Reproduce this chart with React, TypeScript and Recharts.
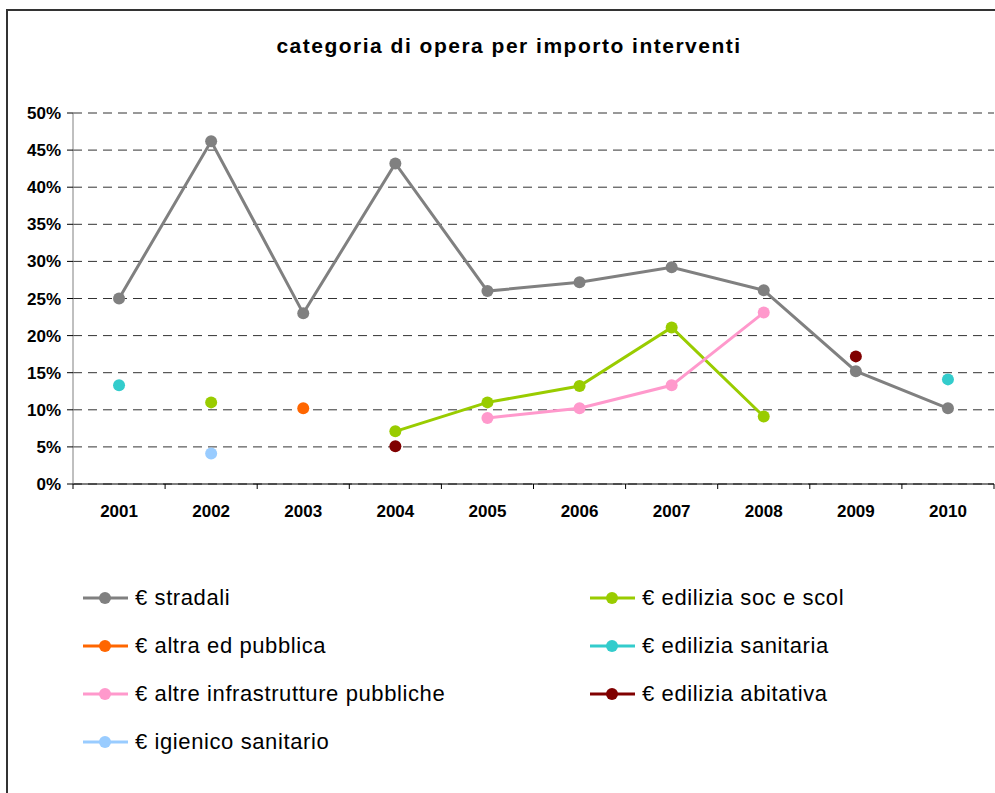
import {
  LineChart,
  Line,
  XAxis,
  YAxis,
  CartesianGrid,
  Legend
} from 'recharts'

const years = ['2001', '2002', '2003', '2004', '2005', '2006', '2007', '2008', '2009', '2010']
const percentTicks = [0, 5, 10, 15, 20, 25, 30, 35, 40, 45, 50]

const stradali = [25, 46.2, 23, 43.2, 26, 27.2, 29.2, 26.1, 15.2, 10.2]
const ediliziaSocScol = [null, 11, null, 7.1, 11, 13.2, 21.1, 9.1, null, null]
const altraEdPubblica = [null, null, 10.2, null, null, null, null, null, null, null]
const ediliziaSanitaria = [13.3, null, null, null, null, null, null, null, null, 14.1]
const altreInfrastrutture = [null, null, null, null, 8.9, 10.2, 13.3, 23.1, null, null]
const ediliziaAbitativa = [null, null, null, 5.1, null, null, null, null, 17.2, null]
const igienicoSanitario = [null, 4.1, null, null, null, null, null, null, null, null]

const series = [
  { key: 'stradali', name: '€ stradali', color: '#808080', values: stradali },
  { key: 'socScol', name: '€ edilizia soc e scol', color: '#99CC00', values: ediliziaSocScol },
  { key: 'altraEd', name: '€ altra ed pubblica', color: '#FF6600', values: altraEdPubblica },
  { key: 'sanitaria', name: '€ edilizia sanitaria', color: '#33CCCC', values: ediliziaSanitaria },
  { key: 'infra', name: '€ altre infrastrutture pubbliche', color: '#FF99CC', values: altreInfrastrutture },
  { key: 'abitativa', name: '€ edilizia abitativa', color: '#800000', values: ediliziaAbitativa },
  { key: 'igienico', name: '€ igienico sanitario', color: '#99CCFF', values: igienicoSanitario }
]

const data = years.map((year, i) => {
  const row: any = { year }
  series.forEach(s => { row[s.key] = s.values[i] })
  return row
})

const W = 995
const H = 793
const Y_AXIS_W = 73
const MARGIN = { top: 113, right: 1, bottom: 269, left: 0 }
const PLOT_W = W - MARGIN.left - MARGIN.right - Y_AXIS_W
const FONT = '"Liberation Sans", Arial, sans-serif'

// tick marks sit on the category boundaries, labels in the middle
const YearTick = (props: any) => {
  const { x, y, payload, index, visibleTicksCount } = props
  const band = PLOT_W / years.length
  const left = x - band / 2
  return (
    <g>
      <line x1={left} y1={y} x2={left} y2={y + 5} stroke="#000" />
      {index === visibleTicksCount - 1 && (
        <line x1={left + band} y1={y} x2={left + band} y2={y + 5} stroke="#000" />
      )}
      <text x={x} y={y + 33} textAnchor="middle" fontSize={17} fontWeight="bold" fill="#000">
        {payload.value}
      </text>
    </g>
  )
}

// keep the legend in series order (recharts sorts it by name otherwise)
const LegendGrid = ({ payload }: any) => {
  const items = series
    .map(s => (payload || []).find((p: any) => p.value === s.name))
    .filter(Boolean)
  return (
    <div style={{ display: 'grid', gridTemplateColumns: '507px 400px', fontFamily: FONT }}>
      {items.map((p: any) => (
        <div key={p.value} style={{ height: 48, display: 'flex', alignItems: 'center' }}>
          <svg width={52} height={14} style={{ flex: 'none' }}>
            <line x1={0} y1={7} x2={45} y2={7} stroke={p.color} strokeWidth={3} />
            <circle cx={22} cy={7} r={6} fill={p.color} />
          </svg>
          <span style={{ fontSize: 22, letterSpacing: 0.6, color: '#000', whiteSpace: 'nowrap' }}>
            {p.value}
          </span>
        </div>
      ))}
    </div>
  )
}

const App = () => {
  return (
    <div style={{ position: 'absolute', left: 0, top: 0, width: W, height: H, overflow: 'hidden', background: '#fff' }}>
      <div
        style={{
          position: 'absolute', left: 6, top: 9, width: 1100, height: 1000,
          border: '2px solid #333', boxSizing: 'border-box'
        }}
      />
      <div
        style={{
          position: 'absolute', left: 209, top: 34, width: 600, textAlign: 'center',
          fontFamily: FONT, fontSize: 21, fontWeight: 'bold', lineHeight: '24px', letterSpacing: 1.5
        }}
      >
        categoria di opera per importo interventi
      </div>
      <div style={{ position: 'absolute', left: 0, top: 0 }}>
        <LineChart width={W} height={H} data={data} margin={MARGIN} style={{ fontFamily: FONT }}>
          <CartesianGrid vertical={false} stroke="#333" strokeDasharray="9 6" />
          <XAxis
            dataKey="year"
            scale="band"
            height={40}
            axisLine={{ stroke: '#000' }}
            tickLine={false}
            tickSize={0}
            tickMargin={0}
            tick={<YearTick />}
            interval={0}
          />
          <YAxis
            width={Y_AXIS_W}
            domain={[0, 50]}
            ticks={percentTicks}
            tickFormatter={(v: number) => `${v}%`}
            axisLine={{ stroke: '#808080' }}
            tickLine={{ stroke: '#000' }}
            tickSize={6}
            tickMargin={6}
            tick={{ fontSize: 17, fontWeight: 'bold', fill: '#000' }}
            interval={0}
          />
          <Legend
            layout="horizontal"
            verticalAlign="middle"
            align="center"
            content={<LegendGrid />}
            wrapperStyle={{ top: 574, left: 83, width: 900 }}
          />
          {series.map(s => (
            <Line
              key={s.key}
              dataKey={s.key}
              name={s.name}
              stroke={s.color}
              strokeWidth={3}
              dot={{ r: 6, fill: s.color, stroke: s.color, strokeWidth: 0 }}
              activeDot={false}
              isAnimationActive={false}
            />
          ))}
        </LineChart>
      </div>
    </div>
  )
}

export default App
